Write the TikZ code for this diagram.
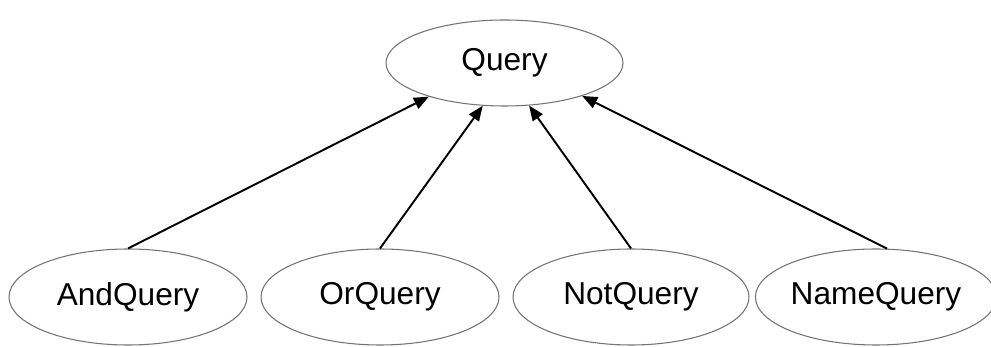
\documentclass[tikz,border=0pt]{standalone}
\usepackage{fontspec}
\setmainfont{Liberation Sans}
\usepackage{tikz}
\usetikzlibrary{shapes.geometric,arrows.meta}

\begin{document}
\begin{tikzpicture}[every node/.style={draw=black!55,line width=0.6pt,ellipse,inner sep=0pt,minimum height=1.92cm,minimum width=4.76cm,font=\fontsize{18}{20}\selectfont},
  >={Triangle[length=0.3cm,width=0.24cm]}]
\useasboundingbox (0,0) rectangle (19.82,-6.94);
\node[minimum width=4.74cm,minimum height=1.72cm] (q) at (10.09, -1.26) {Query};
\node (aq) at (2.56, -5.94) {AndQuery};
\node (oq) at (7.60, -5.94) {OrQuery};
\node[minimum width=4.72cm] (tq) at (12.62, -5.94) {NotQuery};
\node[minimum width=4.56cm] (mq) at (17.52, -5.94) {NameQuery};
\draw [->,line width=1.1pt] (aq.north) to (q.204);
\draw [->,line width=1.1pt] (oq.north) to (q.243);
\draw [->,line width=1.1pt] (tq.north) to (q.300);
\draw [->,line width=1.1pt] (mq.77) to (q.337);
\end{tikzpicture}
\end{document}
